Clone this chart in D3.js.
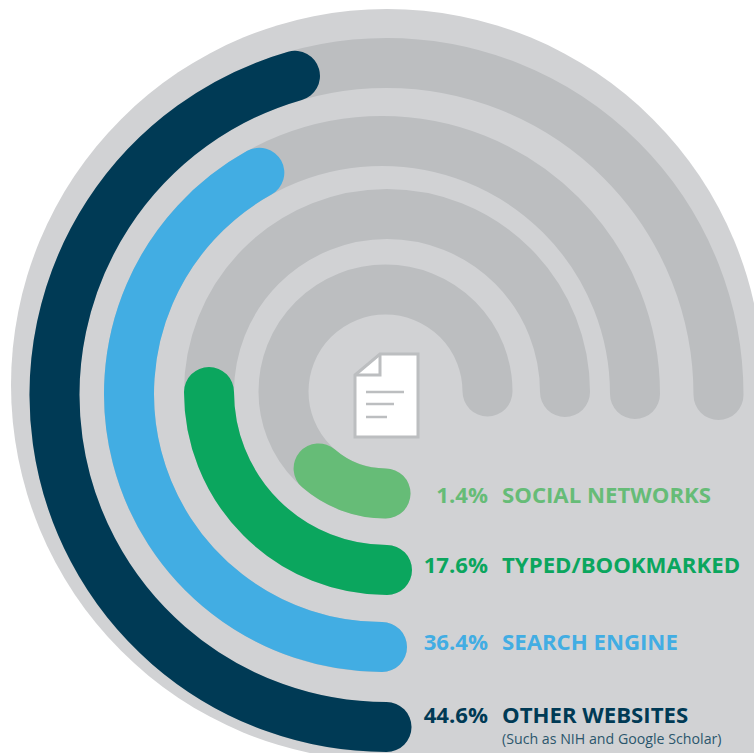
<!DOCTYPE html>
<html>
<head>
<meta charset="utf-8">
<script src="https://cdn.jsdelivr.net/npm/d3@7"></script>
<style>
  html, body { margin: 0; padding: 0; background: #fff; }
  svg { display: block; }
  text { font-family: "Open Sans", sans-serif; font-weight: 700; }
</style>
</head>
<body>
<div id="chart"></div>
<script>
// Inner ring first, as in the picture
const categories = ["SOCIAL NETWORKS", "TYPED/BOOKMARKED", "SEARCH ENGINE", "OTHER WEBSITES"];
const percentages = [1.4, 17.6, 36.4, 44.6];
// Length of each coloured arc in degrees from the bottom (not proportional to the percentages in the original)
const sweepDegrees = [41, 90, 151, 164];
const trackDegrees = 270;
const subLabel = "(Such as NIH and Google Scholar)";
const palette = ["#66bc77", "#0ba65e", "#42ade3", "#003a55"];

const width = 754;
const height = 753;
const bandWidth = 50;

const svg = d3.select("#chart")
  .append("svg")
  .attr("width", width)
  .attr("height", height);

// Background disc, squared off in the lower right corner
svg.append("circle")
  .attr("cx", 387)
  .attr("cy", 385)
  .attr("r", 376)
  .attr("fill", "#d1d2d4");

svg.append("rect")
  .attr("x", 387)
  .attr("y", 385)
  .attr("width", width - 387)
  .attr("height", height - 385)
  .attr("fill", "#d1d2d4");

// Scales - the rings of the original are not quite concentric
const radius = d3.scaleOrdinal().domain(categories).range([102, 178, 253, 332]);
const centerX = d3.scaleOrdinal().domain(categories).range([385.5, 387, 382, 386.5]);
const centerY = d3.scaleOrdinal().domain(categories).range([391.5, 392, 394, 395]);
const color = d3.scaleOrdinal().domain(categories).range(palette);
const angle = d3.scaleLinear().domain([0, 360]).range([Math.PI / 2, Math.PI * 2.5]);
const labelY = d3.scaleOrdinal().domain(categories).range([503, 573, 650, 722.5]);

function arcPath(category, degrees) {
  const p = d3.path();
  p.arc(centerX(category), centerY(category), radius(category), angle(0), angle(degrees));
  return p.toString();
}

// Grey tracks
svg.append("g")
  .selectAll("path")
  .data(categories)
  .enter()
  .append("path")
    .attr("d", d => arcPath(d, trackDegrees))
    .attr("fill", "none")
    .attr("stroke", "#bcbec0")
    .attr("stroke-width", bandWidth)
    .attr("stroke-linecap", "round");

// Coloured arcs
svg.append("g")
  .selectAll("path")
  .data(categories)
  .enter()
  .append("path")
    .attr("d", (d, i) => arcPath(d, sweepDegrees[i]))
    .attr("fill", "none")
    .attr("stroke", d => color(d))
    .attr("stroke-width", bandWidth)
    .attr("stroke-linecap", "round");

// Labels
const labels = svg.append("g")
  .selectAll("g")
  .data(categories)
  .enter()
  .append("g")
    .attr("fill", d => color(d));

labels.append("text")
  .attr("x", 488)
  .attr("y", d => labelY(d))
  .attr("text-anchor", "end")
  .attr("font-size", 22.2)
  .text((d, i) => `${percentages[i]}%`);

labels.append("text")
  .attr("x", 502)
  .attr("y", d => labelY(d))
  .attr("font-size", 22.2)
  .text(d => d);

svg.append("text")
  .attr("x", 502)
  .attr("y", 744)
  .attr("font-size", 14.2)
  .attr("fill", "#2b566c")
  .style("font-weight", 400)
  .text(subLabel);

// Document icon in the middle
const icon = svg.append("g")
  .attr("transform", "translate(354,353)")
  .attr("fill", "none")
  .attr("stroke", "#bcbec0");

icon.append("path")
  .attr("d", "M26,1 H64 V84 H1 V22 Z")
  .attr("fill", "#fff")
  .attr("stroke-width", 3);

icon.append("path")
  .attr("d", "M26,1 V22 H1")
  .attr("stroke-width", 3);

icon.selectAll("line")
  .data([[12, 50, 39], [12, 40, 51], [12, 33, 64]])
  .enter()
  .append("line")
    .attr("x1", d => d[0])
    .attr("x2", d => d[1])
    .attr("y1", d => d[2])
    .attr("y2", d => d[2])
    .attr("stroke-width", 2.5);
</script>
</body>
</html>
